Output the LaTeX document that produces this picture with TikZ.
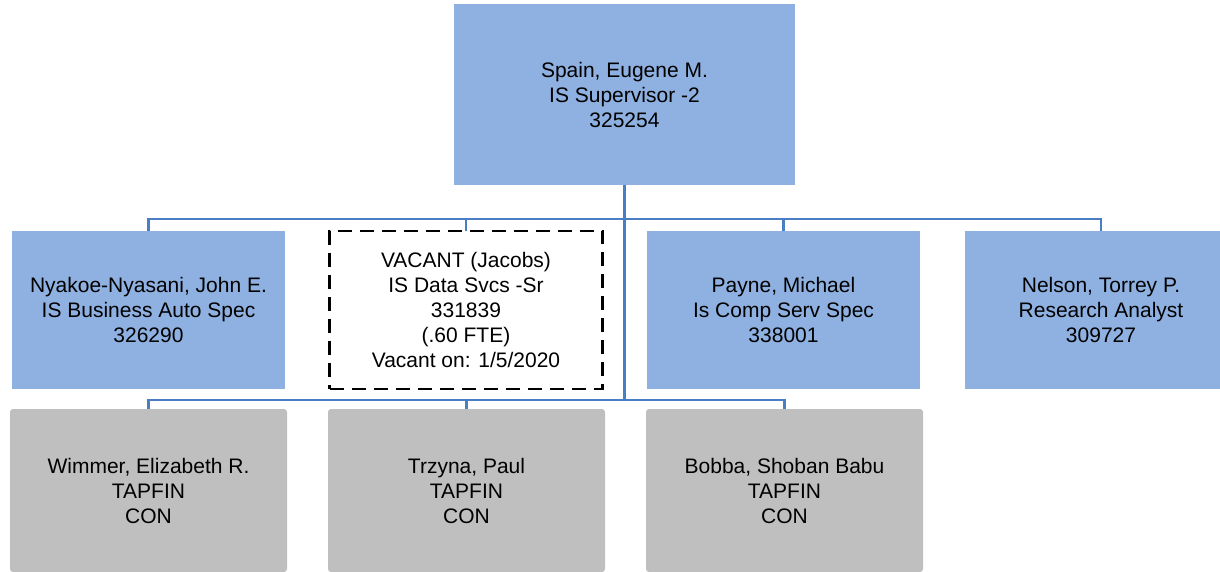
\documentclass[tikz,border=0pt]{standalone}
\usepackage{fontspec}
\setmainfont{Liberation Sans}
\usetikzlibrary{positioning}
\definecolor{boxblue}{HTML}{8EB1E1}
\definecolor{boxgray}{HTML}{BFBFBF}
\definecolor{linkblue}{HTML}{4A7EC4}

\begin{document}
\begin{tikzpicture}[x=1pt,y=-1pt,node distance=44.5pt,every node/.style={font=\fontsize{21}{25}\selectfont},
 box/.style={minimum width=273pt,minimum height=158pt,align=center,inner sep=0pt,outer sep=0pt},
 staff/.style={box,fill=boxblue},
 vacant/.style={box,draw=black,line width=2.6pt,dash pattern=on 14pt off 8pt},
 contractor/.style={box,fill=boxgray,rounded corners=3pt,minimum width=277pt,minimum height=163pt},
 link/.style={draw=linkblue,line width=2.2pt}]
\useasboundingbox (0,0) rectangle (1220,572);
\node[staff,minimum width=341pt,minimum height=181pt](top) at (624.5,94.5){Spain, Eugene M.\\IS Supervisor -2\\325254};
\node[staff](r1) at (148.5,310){Nyakoe-Nyasani, John E.\\IS Business Auto Spec\\326290};
\node[vacant,right=of r1](r2){VACANT (Jacobs)\\IS Data Svcs -Sr\\331839\\(.60 FTE)\\Vacant on: 1/5/2020};
\node[staff,right=of r2](r3){Payne, Michael\\Is Comp Serv Spec\\338001};
\node[staff,right=of r3](r4){Nelson, Torrey P.\\Research Analyst\\309727};
\node[contractor](g1) at (148.5,490.5){Wimmer, Elizabeth R.\\TAPFIN\\CON};
\node[contractor,right=41pt of g1](g2){Trzyna, Paul\\TAPFIN\\CON};
\node[contractor,right=41pt of g2](g3){Bobba, Shoban Babu\\TAPFIN\\CON};
\coordinate (bus1) at (624.5,219);\coordinate (bus2) at (624.5,400);
\draw[link](top.south)--(bus2);
\foreach \n in {r1,r2,r3,r4} \draw[link](bus1)-|(\n.north);
\foreach \n in {g1,g2,g3} \draw[link](bus2)-|(\n.north);
\end{tikzpicture}
\end{document}
